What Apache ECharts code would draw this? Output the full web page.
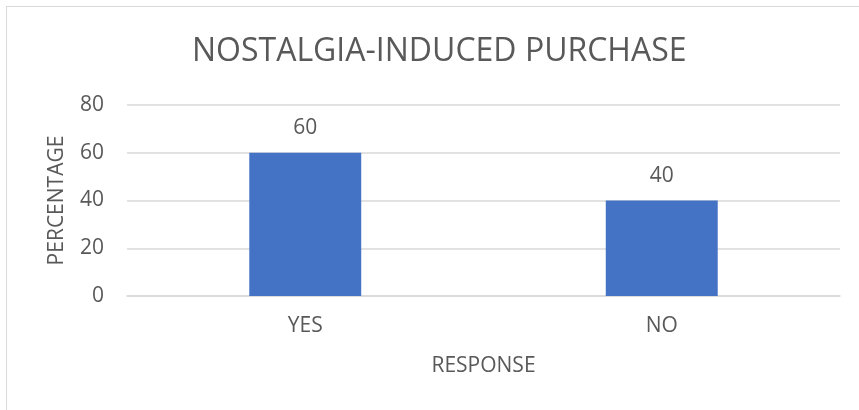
<!DOCTYPE html>
<html>
<head>
<meta charset="utf-8">
<script src="https://cdn.jsdelivr.net/npm/echarts@6/dist/echarts.min.js"></script>
<style>
  html, body { margin: 0; padding: 0; background: #fff; }
  #frame { position: absolute; left: 6px; top: 6px; width: 859px; height: 410px;
           border-left: 1px solid #d9d9d9; border-top: 1px solid #d9d9d9; box-sizing: border-box; }
  #chart { position: absolute; left: 0; top: 0; width: 859px; height: 410px; }
</style>
</head>
<body>
<div id="frame"></div>
<div id="chart"></div>
<script>
const titleText = 'NOSTALGIA-INDUCED PURCHASE';
const categories = ['YES', 'NO'];
const percentages = [60, 40];
const xAxisName = 'RESPONSE';
const yAxisName = 'PERCENTAGE';

const FONT = '"Open Sans", sans-serif';
const TEXT = '#595959';
const SIZE = 21;

const chart = echarts.init(document.getElementById('chart'), null, { renderer: 'canvas' });
chart.setOption({
  animation: false,
  title: {
    text: titleText,
    left: 187,
    top: 31,
    textStyle: { fontFamily: FONT, fontSize: 32, fontWeight: 'normal', color: TEXT }
  },
  grid: { left: 127, right: 19, top: 105, bottom: 114, containLabel: false },
  xAxis: {
    type: 'category',
    data: categories,
    name: xAxisName,
    nameLocation: 'middle',
    nameGap: 60,
    nameTextStyle: { fontFamily: FONT, fontSize: SIZE, color: TEXT },
    axisLine: { lineStyle: { color: '#d9d9d9', width: 1.5 } },
    axisTick: { show: false },
    axisLabel: { fontFamily: FONT, fontSize: SIZE, color: TEXT, margin: 20 }
  },
  yAxis: {
    type: 'value',
    min: 0,
    max: 80,
    interval: 20,
    name: yAxisName,
    nameLocation: 'middle',
    nameGap: 59,
    nameTextStyle: { fontFamily: FONT, fontSize: SIZE, color: TEXT },
    axisLine: { show: false },
    axisTick: { show: false },
    axisLabel: { fontFamily: FONT, fontSize: SIZE, color: TEXT, margin: 23 },
    splitLine: { lineStyle: { color: '#d9d9d9', width: 1.5 } }
  },
  series: [{
    type: 'bar',
    data: percentages,
    barWidth: '31.4%',
    itemStyle: { color: '#4472c4' },
    label: {
      show: true,
      position: 'top',
      distance: 14,
      fontFamily: FONT,
      fontSize: SIZE,
      color: TEXT
    }
  }]
});
</script>
</body>
</html>
